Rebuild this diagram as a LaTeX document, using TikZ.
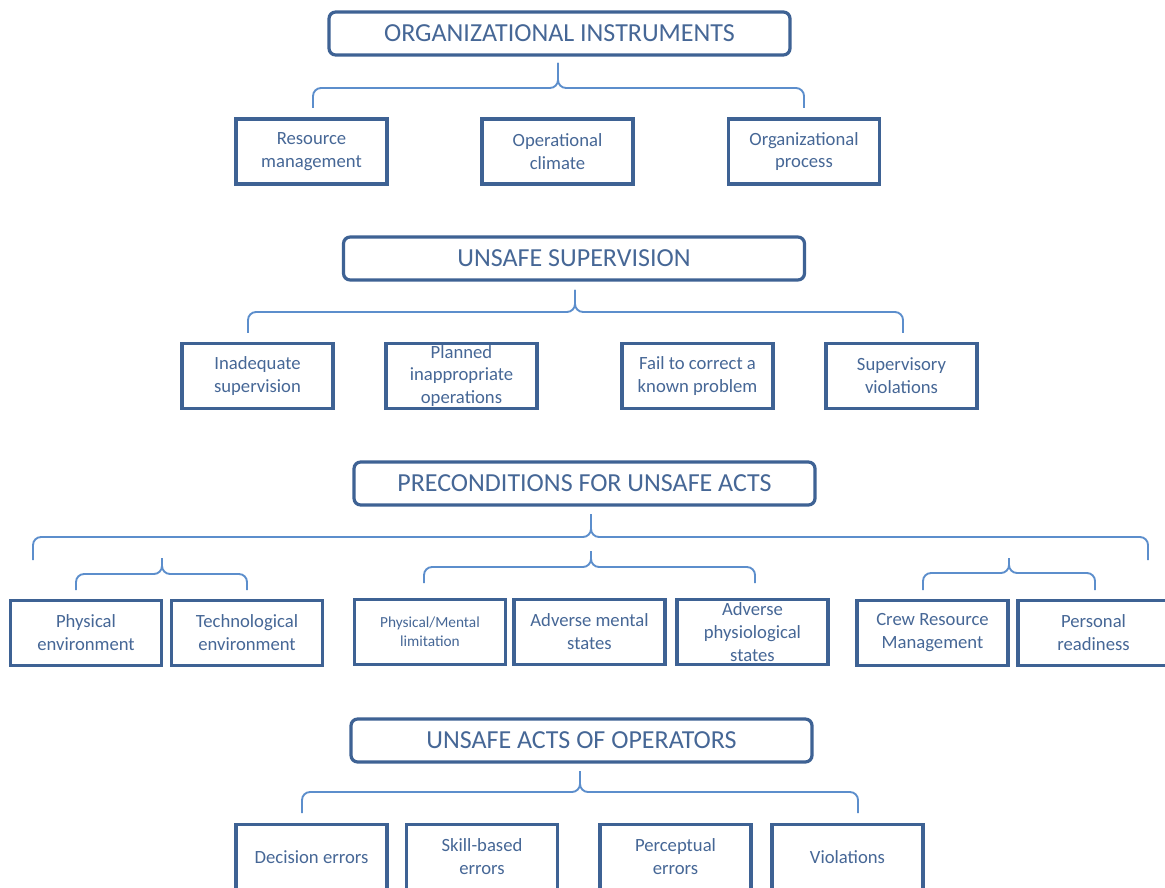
\documentclass[tikz,border=0pt]{standalone}
\usepackage{fontspec}
\setmainfont{Carlito}
\definecolor{boxblue}{RGB}{62,98,148}
\definecolor{txtblue}{RGB}{70,103,150}
\definecolor{braceblue}{RGB}{92,142,204}
\tikzset{
  hdr/.style={draw=boxblue, line width=2.4pt, rounded corners=5pt, fill=white,
    minimum width=345.75pt, minimum height=32.25pt, inner sep=0pt,
    text=txtblue, font=\fontsize{19.5}{23}\selectfont},
  cbox/.style={draw=boxblue, line width=2.3pt, fill=white,
    minimum width=113.25pt, minimum height=48.75pt, inner sep=0pt,
    text=txtblue, align=center, font=\fontsize{14}{17.2}\selectfont,
    execute at begin node={\vspace*{3pt}}},
  brc/.style={draw=braceblue, line width=1.4pt, rounded corners=6pt}
}
\newcommand{\bracedraw}[6]{%
  % #1 xl, #2 xr, #3 xc, #4 y horizontal, #5 y bottom of ends, #6 y tip
  \draw[brc] (#1,#5) -- (#1,#4) -- (#3,#4) -- (#3,#6);
  \draw[brc] (#2,#5) -- (#2,#4) -- (#3,#4) -- (#3,#6);
}
\begin{document}
\begin{tikzpicture}[x=0.75pt,y=-0.75pt]
\useasboundingbox (0,0) rectangle (1165,888);
\clip (0,0) rectangle (1165,888);
\fill[white] (0,0) rectangle (1165,888);

% ---- Level 1
\node[hdr] (h1) at (559.5,33.5) {ORGANIZATIONAL INSTRUMENTS};
\bracedraw{313}{804}{558}{88}{108}{63}
\node[cbox] (rm) at (311.5,151.5) {Resource\\management};
\node[cbox] (oc) at (557.5,151.5) {Operational\\climate};
\node[cbox] (op) at (804,151.5) {Organizational\\process};

% ---- Level 2
\node[hdr] (h2) at (574,258.5) {UNSAFE SUPERVISION};
\bracedraw{248}{903}{575}{312}{333}{290}
\node[cbox] (is)  at (257.5,376) {Inadequate\\supervision};
\node[cbox] (pio) at (461.5,376) {Planned\\inappropriate\\operations};
\node[cbox] (fc)  at (697.5,376) {Fail to correct a\\known problem};
\node[cbox] (sv)  at (901.5,376) {Supervisory\\violations};

% ---- Level 3
\node[hdr] (h3) at (584.5,483.5) {PRECONDITIONS FOR UNSAFE ACTS};
\bracedraw{33}{1148}{591}{537}{560}{514}
\bracedraw{76}{247}{162}{574}{590}{558}
\bracedraw{424}{755}{591}{567}{583}{551}
\bracedraw{923}{1095}{1009}{573}{590}{558}
\node[cbox] (pe)  at (86,633)    {Physical\\environment};
\node[cbox] (te)  at (247,633)   {Technological\\environment};
\node[cbox, font=\fontsize{11.5}{14}\selectfont] (pml) at (430,632) {Physical/Mental\\limitation};
\node[cbox] (ams) at (589.5,632) {Adverse mental\\states};
\node[cbox] (aps) at (752.5,632) {Adverse\\physiological\\states};
\node[cbox] (crm) at (932.5,633) {Crew Resource\\Management};
\node[cbox] (pr)  at (1093.5,633) {Personal\\readiness};

% ---- Level 4
\node[hdr] (h4) at (581.5,740.5) {UNSAFE ACTS OF OPERATORS};
\bracedraw{302}{858}{580}{792}{813}{771}
\node[cbox] (de)  at (311.5,857) {Decision errors};
\node[cbox] (se)  at (482,857)   {Skill-based\\errors};
\node[cbox] (pce) at (675.5,857) {Perceptual\\errors};
\node[cbox] (vio) at (847.5,857) {Violations};
\end{tikzpicture}
\end{document}
